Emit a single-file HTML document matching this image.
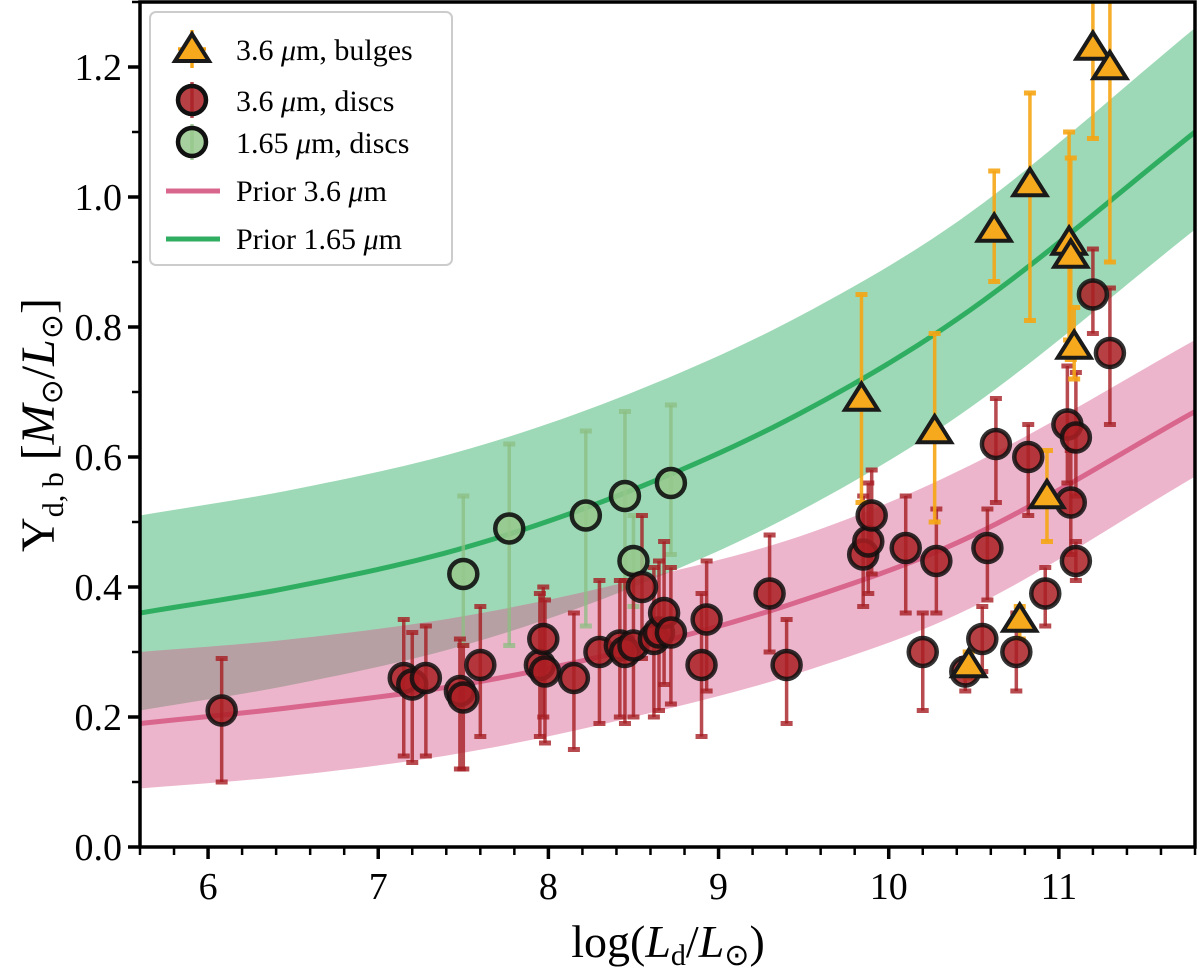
<!DOCTYPE html>
<html><head><meta charset="utf-8"><style>
body{margin:0;background:#fff}
svg{display:block;font-family:"Liberation Serif",serif}
</style></head><body>
<svg id="chart" width="1200" height="969" viewBox="0 0 1200 969" xmlns="http://www.w3.org/2000/svg"></svg>
<script>
const discX=[6.08,7.15,7.2,7.28,7.48,7.5,7.6,7.95,7.97,7.98,8.15,8.3,8.42,8.45,8.5,8.55,8.62,8.65,8.68,8.72,8.9,8.93,9.3,9.4,9.85,9.88,9.9,10.1,10.2,10.28,10.45,10.55,10.58,10.63,10.75,10.82,10.92,11.05,11.07,11.1,11.1,11.2,11.3];
const discY=[0.21,0.26,0.25,0.26,0.24,0.23,0.28,0.28,0.32,0.27,0.26,0.30,0.31,0.30,0.31,0.40,0.32,0.33,0.36,0.33,0.28,0.35,0.39,0.28,0.45,0.47,0.51,0.46,0.30,0.44,0.27,0.32,0.46,0.62,0.30,0.60,0.39,0.65,0.53,0.63,0.44,0.85,0.76];
const discLo=[0.10,0.14,0.13,0.14,0.12,0.12,0.17,0.17,0.20,0.16,0.15,0.19,0.20,0.19,0.20,0.29,0.20,0.21,0.25,0.22,0.17,0.24,0.30,0.19,0.37,0.39,0.42,0.36,0.21,0.36,0.24,0.27,0.38,0.53,0.24,0.51,0.34,0.56,0.45,0.54,0.41,0.79,0.65];
const discHi=[0.29,0.35,0.33,0.34,0.32,0.31,0.37,0.39,0.40,0.38,0.36,0.41,0.41,0.41,0.42,0.51,0.43,0.44,0.47,0.43,0.39,0.44,0.48,0.35,0.54,0.56,0.58,0.54,0.36,0.52,0.29,0.37,0.52,0.69,0.36,0.65,0.43,0.74,0.61,0.73,0.47,0.92,0.86];
const bulgeX=[9.84,10.27,10.47,10.62,10.77,10.83,10.93,11.06,11.07,11.09,11.2,11.3];
const bulgeY=[0.69,0.64,0.28,0.95,0.35,1.02,0.54,0.93,0.91,0.77,1.23,1.20];
const bulgeLo=[0.53,0.50,0.26,0.87,0.32,0.81,0.47,0.78,0.75,0.72,1.09,0.90];
const bulgeHi=[0.85,0.79,0.30,1.04,0.37,1.16,0.61,1.10,1.06,0.83,1.35,1.35];
const hX=[7.5,7.77,8.22,8.45,8.5,8.72];
const hY=[0.42,0.49,0.51,0.54,0.44,0.56];
const hLo=[0.31,0.31,0.34,0.40,0.37,0.45];
const hHi=[0.54,0.62,0.64,0.67,0.51,0.68];
const priorX=[5.6,6.5,7.5,8.5,9.5,10.5,11.8];
const pinkMid=[0.19,0.215,0.25,0.305,0.38,0.48,0.67];
const pinkLo=[0.09,0.11,0.145,0.20,0.27,0.37,0.57];
const pinkHi=[0.30,0.32,0.355,0.41,0.48,0.59,0.78];
const greenMid=[0.36,0.40,0.46,0.55,0.67,0.83,1.10];
const greenLo=[0.21,0.25,0.31,0.40,0.52,0.68,0.95];
const greenHi=[0.51,0.55,0.61,0.70,0.82,0.98,1.26];
const xTicks=[6,7,8,9,10,11];
const yTicks=[0.0,0.2,0.4,0.6,0.8,1.0,1.2];

const L=140,R=1195,T=2,B=847,X0=5.6,X1=11.8,Y0=0,Y1=1.3;
const sx=v=>L+(v-X0)/(X1-X0)*(R-L);
const sy=v=>B-(v-Y0)/(Y1-Y0)*(B-T);
const NS="http://www.w3.org/2000/svg";
const svg=document.getElementById('chart');
function mk(tag,attrs,parent){const e=document.createElementNS(NS,tag);for(const k in attrs)e.setAttribute(k,attrs[k]);(parent||svg).appendChild(e);return e;}
const clip=mk('clipPath',{id:'pc'});mk('rect',{x:L,y:T,width:R-L,height:B-T},clip);
const plot=mk('g',{'clip-path':'url(#pc)'});


function interp(xs,ys,x){let i=0;while(i<xs.length-2&&x>xs[i+1])i++;
 const x0=xs[i],x1=xs[i+1],y0=ys[i],y1=ys[i+1];
 const m0=i>0?(ys[i+1]-ys[i-1])/(xs[i+1]-xs[i-1]):(y1-y0)/(x1-x0);
 const m1=i<xs.length-2?(ys[i+2]-ys[i])/(xs[i+2]-xs[i]):(y1-y0)/(x1-x0);
 const h=x1-x0,t=(x-x0)/h,t2=t*t,t3=t2*t;
 return (2*t3-3*t2+1)*y0+(t3-2*t2+t)*h*m0+(-2*t3+3*t2)*y1+(t3-t2)*h*m1;}
function samples(){const a=[];for(let i=0;i<=80;i++)a.push(X0+(X1-X0)*i/80);return a;}
function band(lo,hi,fill,name){const s=samples();let d='M'+s.map(x=>sx(x)+','+sy(interp(priorX,hi,x))).join('L');
 d+='L'+s.slice().reverse().map(x=>sx(x)+','+sy(interp(priorX,lo,x))).join('L')+'Z';
 const p=mk('path',{d:d,fill:fill},plot);}
function line(mid,col,name){const s=samples();const d='M'+s.map(x=>sx(x)+','+sy(interp(priorX,mid,x))).join('L');
 const p=mk('path',{d:d,fill:'none',stroke:col,'stroke-width':5},plot);}
band(greenLo,greenHi,'rgba(60,180,110,0.5)','prior-1.65-band');
band(pinkLo,pinkHi,'rgba(215,90,140,0.45)','prior-3.6-band');
line(greenMid,'#2fae62','prior-1.65-line');
line(pinkMid,'#d9668c','prior-3.6-line');
function errs(xs,ys,lo,hi,col,name){xs.forEach((x,i)=>{const g=mk('g',{stroke:col,'stroke-width':3.5},plot);
 
 mk('line',{x1:sx(x),x2:sx(x),y1:sy(lo[i]),y2:sy(hi[i])},g);
 mk('line',{x1:sx(x)-6,x2:sx(x)+6,y1:sy(lo[i]),y2:sy(lo[i]),'stroke-width':5},g);
 mk('line',{x1:sx(x)-6,x2:sx(x)+6,y1:sy(hi[i]),y2:sy(hi[i]),'stroke-width':5},g);});}
errs(hX,hY,hLo,hHi,'rgba(140,190,130,0.75)','disc-1.65');
errs(discX,discY,discLo,discHi,'rgba(165,30,35,0.8)','disc-3.6');
errs(bulgeX,bulgeY,bulgeLo,bulgeHi,'rgba(245,165,20,0.9)','bulge-3.6');
hX.forEach((x,i)=>{const c=mk('circle',{cx:sx(x),cy:sy(hY[i]),r:14,fill:'rgba(150,200,140,0.85)',stroke:'rgba(15,15,15,0.9)','stroke-width':4.5},plot);
 });
discX.forEach((x,i)=>{const c=mk('circle',{cx:sx(x),cy:sy(discY[i]),r:14,fill:'rgba(170,30,35,0.85)',stroke:'rgba(15,15,15,0.85)','stroke-width':4.5},plot);
 });
function tri(cx,cy,s){return `${cx},${cy-s} ${cx-s*1.1},${cy+s*0.75} ${cx+s*1.1},${cy+s*0.75}`;}
bulgeX.forEach((x,i)=>{const p=mk('polygon',{points:tri(sx(x),sy(bulgeY[i]),15),fill:'#f6a91c',stroke:'#1a1a1a','stroke-width':4,'stroke-linejoin':'miter'},plot);
 });
const ax=mk('g',{stroke:'#000'});
mk('rect',{x:L,y:T,width:R-L,height:B-T,fill:'none','stroke-width':3.5},ax);
for(let v=5.6;v<=11.81;v+=0.2){const major=Math.abs(v-Math.round(v))<1e-6;
 mk('line',{x1:sx(v),x2:sx(v),y1:B,y2:B+(major?12:8),'stroke-width':major?3.5:2.5},ax);}
for(let v=0;v<=1.301;v+=0.1){const major=Math.abs(v*5-Math.round(v*5))<1e-6;
 mk('line',{x1:L,x2:L-(major?12:8),y1:sy(v),y2:sy(v),'stroke-width':major?3.5:2.5},ax);}
xTicks.forEach(v=>{const t=mk('text',{x:sx(v),y:B+52,'font-size':38,'text-anchor':'middle'});t.textContent=v;
 });
yTicks.forEach(v=>{const t=mk('text',{x:L-18,y:sy(v)+13,'font-size':38,'text-anchor':'end'});t.textContent=v.toFixed(1);
 });
</script>
<svg width="1200" height="969" style="position:absolute;left:0;top:0;font-family:'Liberation Serif',serif">
<text x="668" y="957" font-size="46" text-anchor="middle">log(<tspan font-style="italic">L</tspan><tspan font-size="30" dy="8">d</tspan><tspan dy="-8">/</tspan><tspan font-style="italic">L</tspan><tspan font-size="30" dy="8">⊙</tspan><tspan dy="-8">)</tspan></text>
<text transform="translate(54,425) rotate(-90)" font-size="48" text-anchor="middle">Υ<tspan font-size="30" dy="9">d, b</tspan><tspan dy="-9"> [</tspan><tspan font-style="italic">M</tspan><tspan font-size="30" dy="8">⊙</tspan><tspan dy="-8">/</tspan><tspan font-style="italic">L</tspan><tspan font-size="30" dy="8">⊙</tspan><tspan dy="-8">]</tspan></text>
<g>
<rect x="150" y="12" width="302" height="253" rx="6" fill="rgba(255,255,255,0.85)" stroke="#ccc" stroke-width="2"/>
<g>
<line x1="192" x2="192" y1="30" y2="68" stroke="#f5a514" stroke-width="3.5"/><line x1="178" x2="206" y1="49" y2="49" stroke="#f5a514" stroke-width="3.5"/>
<polygon points="192,34 175,61 209,61" fill="#f6a91c" stroke="#1a1a1a" stroke-width="4"/>
<text x="236" y="60" font-size="30">3.6 <tspan font-style="italic">μ</tspan>m,  bulges</text></g>
<g>
<line x1="192" x2="192" y1="82" y2="118" stroke="rgba(165,30,35,0.8)" stroke-width="3.5"/>
<circle cx="192" cy="100" r="14" fill="rgba(170,30,35,0.85)" stroke="#111" stroke-width="4.5"/>
<text x="236" y="111" font-size="30">3.6 <tspan font-style="italic">μ</tspan>m,  discs</text></g>
<g>
<line x1="192" x2="192" y1="124" y2="160" stroke="rgba(140,190,130,0.75)" stroke-width="3.5"/>
<circle cx="192" cy="142" r="14" fill="rgba(150,200,140,0.85)" stroke="#111" stroke-width="4.5"/>
<text x="236" y="153" font-size="30">1.65 <tspan font-style="italic">μ</tspan>m,  discs</text></g>
<g>
<line x1="166" x2="220" y1="191" y2="191" stroke="#d9668c" stroke-width="5"/>
<text x="236" y="201" font-size="30">Prior 3.6 <tspan font-style="italic">μ</tspan>m</text></g>
<g>
<line x1="166" x2="220" y1="239" y2="239" stroke="#2fae62" stroke-width="5"/>
<text x="236" y="249" font-size="30">Prior 1.65 <tspan font-style="italic">μ</tspan>m</text></g>
</g>
</svg>
</body></html>
